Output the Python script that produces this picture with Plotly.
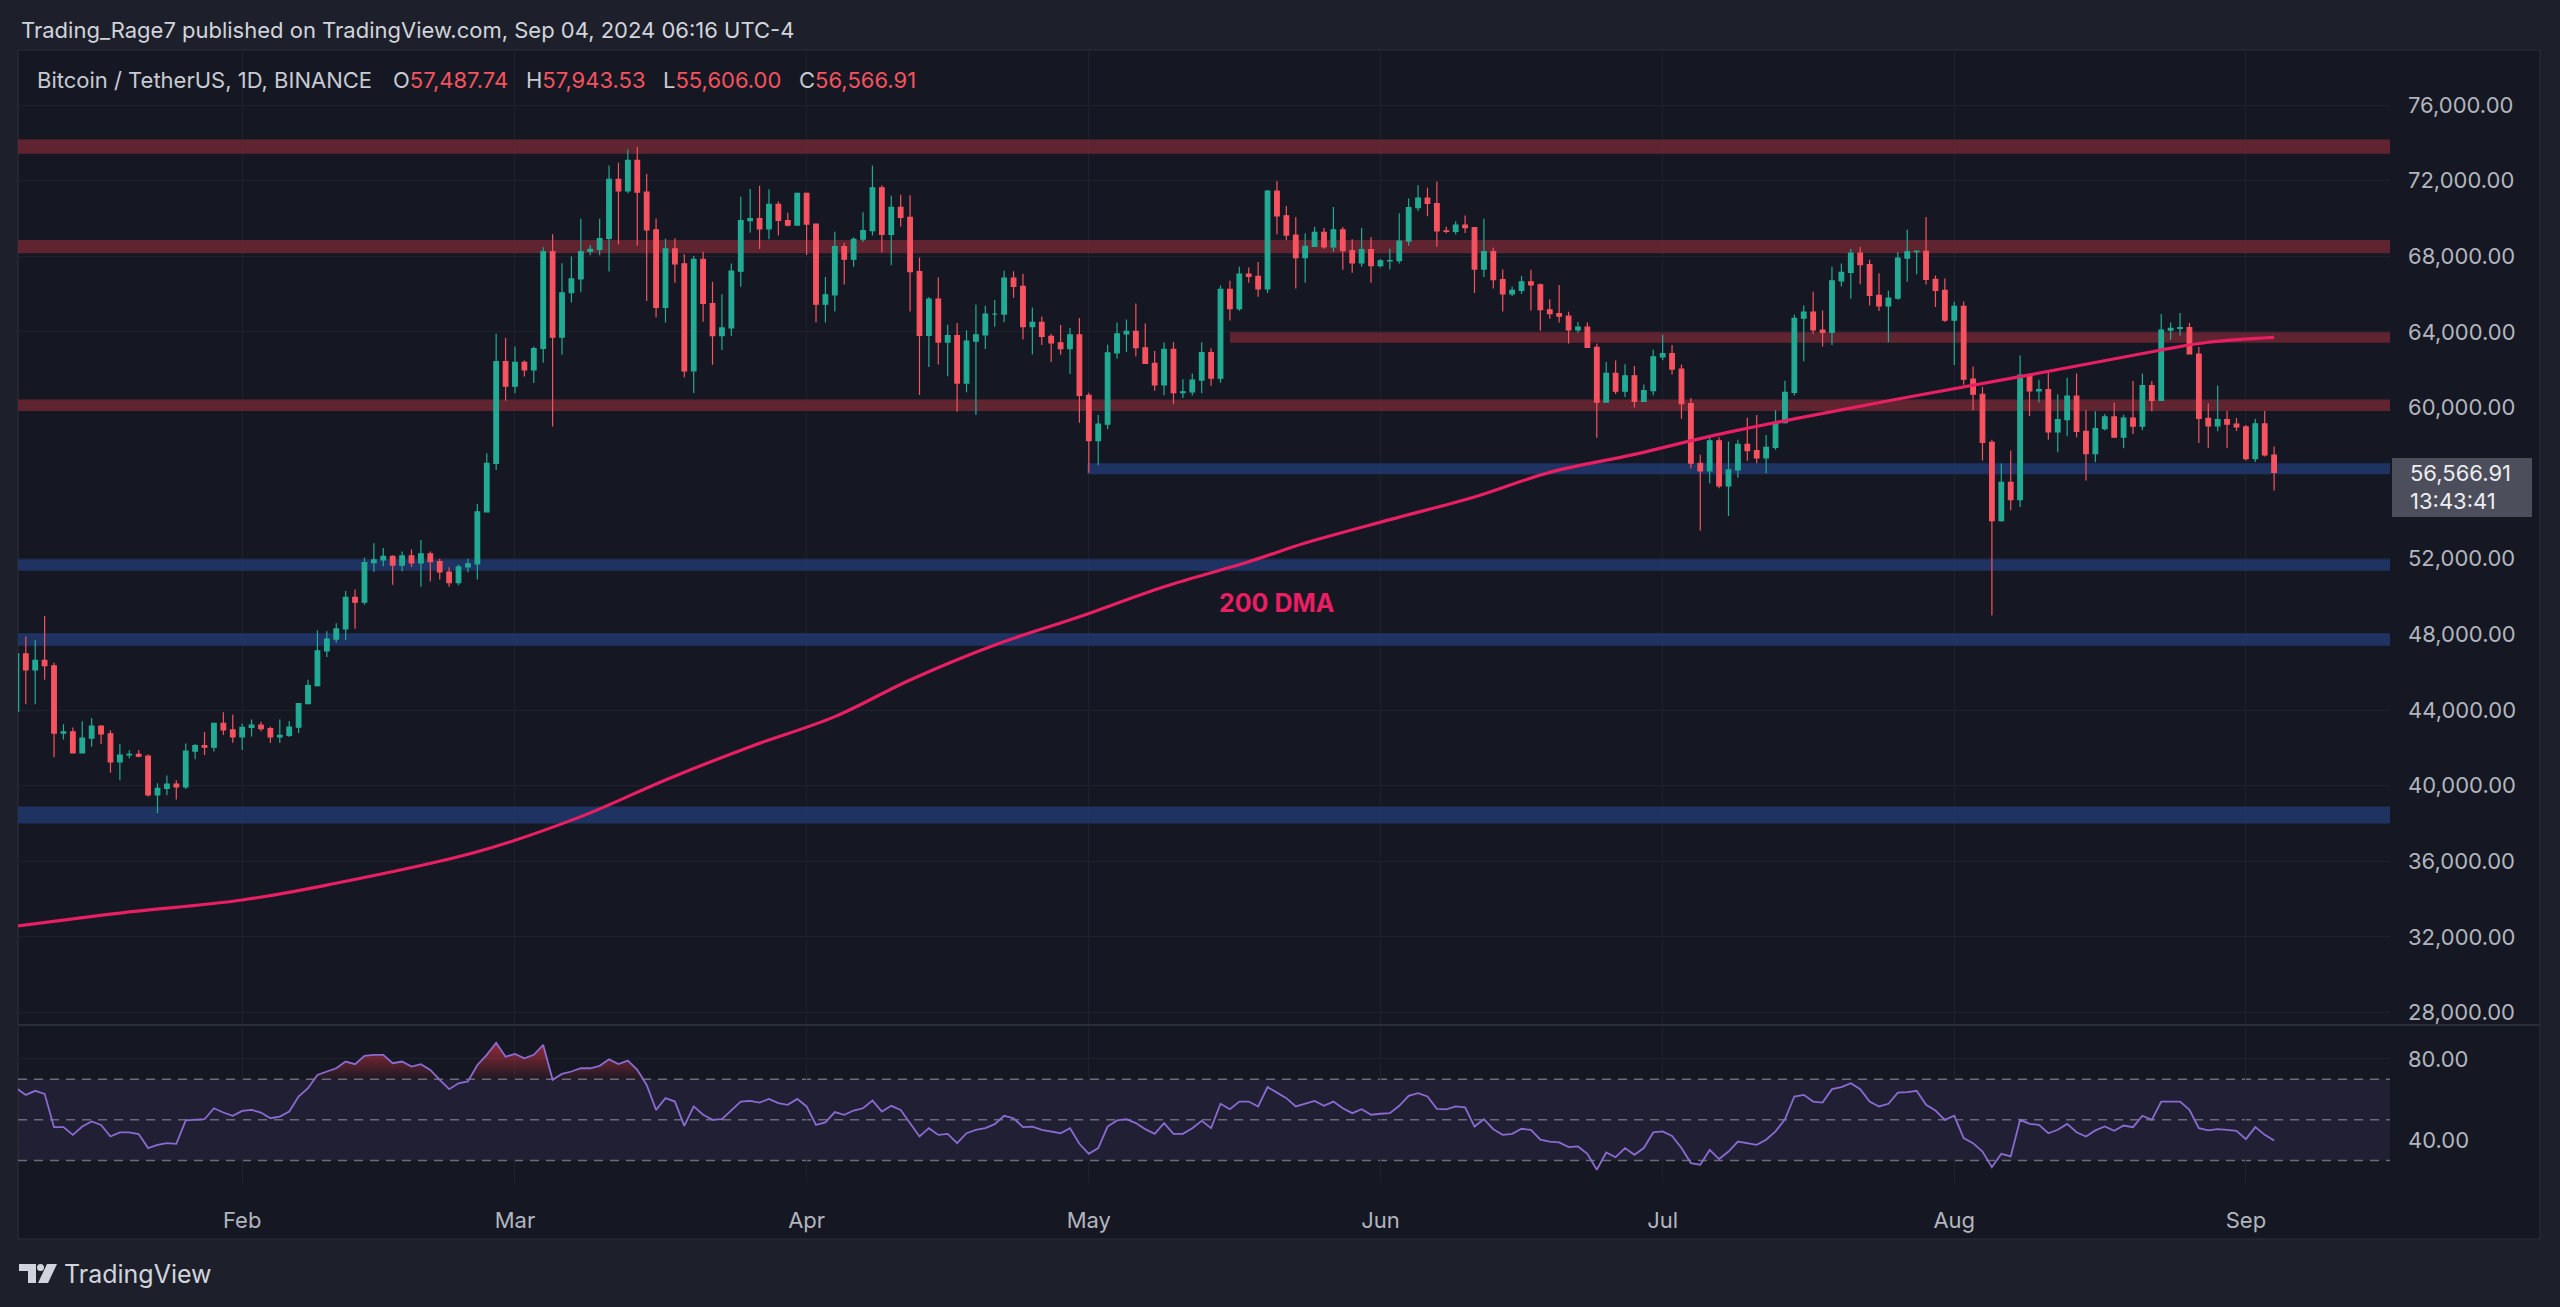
import pandas as pd
import plotly.graph_objects as go

W, H = 2560, 1307

# ---------------- data ----------------
dates = pd.date_range("2024-01-08", "2024-09-04", freq="D")

opens = [
    # Jan 8-31
    43940, 46970, 46120, 46630, 46340, 42780, 42840, 41730, 42510, 43150, 42740, 41260, 41620, 41660, 41560, 39510,
    39850, 40080, 39930, 41820, 42120, 42030, 43300, 42950,
    # Feb
    42580, 43080, 43200, 43010, 42580, 42660, 43090, 44340, 45290, 47130, 47750, 48290, 49960, 49700, 51800, 51940,
    52130, 51660, 52150, 51780, 52260, 51850, 51300, 50730, 51570, 51730, 54480, 57040, 62430,
    # Mar
    61130, 62390, 61990, 63120, 68250, 63720, 66070, 66800, 68250, 68360, 68940, 72070, 71450, 73070, 71390, 69400,
    65300, 68390, 67600, 61940, 67840, 65500, 63800, 64210, 67210, 69880, 69990, 69450, 70740, 69890, 69650,
    # Apr
    71330, 69700, 65460, 65960, 68510, 67840, 68900, 69360, 71620, 69150, 70590, 70060, 67190, 63820, 65740, 63460,
    63800, 61290, 63510, 63840, 64940, 64940, 66840, 66410, 64280, 64500, 63760, 63420, 63110, 63840,
    # May
    60640, 58250, 59120, 62890, 63890, 64030, 63160, 62330, 61190, 63070, 60790, 60830, 61450, 62900, 61550, 66250,
    65230, 67050, 66940, 66270, 71440, 70140, 69120, 67930, 68520, 69270, 68500, 69400, 68300, 67650, 68350,
    # Jun
    67500, 67760, 67770, 68800, 70570, 71080, 70790, 69340, 69310, 69650, 69510, 67320, 68240, 66760, 66010, 66190,
    66640, 66490, 65170, 64960, 64830, 64100, 64250, 63180, 60280, 61800, 60860, 61680, 60320, 60890,
    # Jul
    62680, 62850, 62030, 60200, 57050, 56650, 58240, 55850, 56700, 58050, 57720, 57340, 57890, 59200, 60800, 64720,
    65040, 64100, 63970, 66700, 67150, 68170, 67560, 65930, 65370, 65780, 67900, 68240, 68260, 66780, 66190,
    # Aug
    64620, 65350, 61500, 60700, 58160, 54020, 56040, 55130, 61710, 60880, 60950, 58710, 59360, 60600, 58740, 57560,
    58880, 59500, 58430, 59440, 59010, 61160, 60380, 64090, 64180, 64220, 62830, 59420, 59030, 59360, 59120,
    # Sep
    58970, 57300, 59130, 57487.74,
]

highs = [
    47250, 47890, 47700, 48970, 46500, 43250, 43070, 43400, 43580, 43200, 42930, 42200, 41870, 41890, 41640, 40130,
    40540, 40280, 42230, 42200, 42840, 43300, 43880, 43750,
    43290, 43500, 43380, 43120, 43500, 43420, 44370, 45600, 48200, 48170, 48590, 50300, 50370, 52050, 52820, 52570,
    52190, 52380, 52490, 52990, 52380, 52000, 51550, 51700, 52000, 54900, 57580, 63900, 63670,
    63230, 62480, 63230, 68480, 69170, 67630, 67990, 69990, 68600, 69990, 72800, 72950, 73650, 73780, 72350, 70000,
    68920, 68950, 68100, 68030, 68240, 66650, 65990, 67620, 71150, 71560, 71730, 71550, 70900, 70300, 71370,
    71370, 69700, 66900, 69290, 68720, 69000, 70330, 72800, 71750, 71200, 71250, 71230, 67930, 65840, 66870, 64380,
    64470, 64080, 65450, 65380, 65680, 67230, 67200, 67070, 65290, 64800, 63900, 64360, 64200, 64730,
    60780, 59600, 63320, 64500, 64650, 65500, 64440, 62990, 63440, 63470, 61500, 61800, 63450, 63130, 66450, 66700,
    67450, 67400, 67700, 71500, 71980, 70660, 70080, 69220, 69560, 69500, 70600, 69550, 68900, 69500, 69020,
    67860, 68400, 70280, 71060, 71750, 71620, 71950, 69560, 69850, 70150, 69550, 69990, 68450, 67300, 66400, 66950,
    67290, 66560, 65730, 66480, 65070, 64520, 64490, 63370, 62400, 62480, 62290, 62200, 61210, 63060,
    63850, 63300, 62280, 60500, 57500, 58480, 58420, 58200, 58300, 59460, 59600, 58540, 59850, 61420, 64900, 65390,
    66120, 65130, 67440, 67620, 68380, 68490, 67820, 67100, 66170, 68230, 69400, 68320, 70080, 66980, 66820,
    65590, 65600, 62170, 61100, 58300, 57040, 57720, 62750, 61800, 61470, 61860, 60700, 61580, 61800, 59850, 59800,
    59650, 60260, 59620, 61400, 61800, 61400, 64950, 64500, 65000, 64480, 63200, 60230, 61170, 59820, 59450,
    59070, 59400, 59810, 57943.53,
]

lows = [
    43200, 44300, 44300, 45600, 41500, 42440, 41720, 41700, 42050, 42200, 40680, 40280, 41450, 41500, 39420, 38555,
    39490, 39270, 39820, 41400, 41620, 41800, 42680, 42270,
    41880, 42600, 42880, 42250, 42260, 42570, 42780, 44300, 45240, 46800, 47560, 47700, 48300, 49570, 51300, 51600,
    50620, 51340, 51570, 50520, 50800, 50900, 50520, 50600, 51280, 50900, 54450, 56700, 60360,
    60750, 61640, 61300, 62370, 59000, 62800, 65550, 66100, 68050, 68050, 67190, 68620, 71330, 68560, 65630, 64780,
    64500, 66600, 61600, 60770, 64530, 62260, 63040, 63780, 66390, 69250, 68380, 68900, 69100, 69570, 69620,
    68060, 64510, 64500, 65080, 66500, 67450, 68760, 69100, 68200, 67520, 69570, 65080, 60660, 62140, 62270, 61650,
    59770, 60800, 59600, 63090, 64270, 64510, 65800, 63600, 62800, 63300, 62400, 62790, 61770, 59190,
    56550, 56940, 58850, 62580, 62930, 62700, 62300, 60890, 60650, 60190, 60500, 60630, 60750, 61150, 61310, 64600,
    65110, 66600, 65860, 66060, 69160, 68850, 66300, 66600, 68500, 68400, 68240, 67280, 67130, 67450, 66600,
    67400, 67300, 67610, 68560, 70390, 70120, 68500, 69210, 69150, 69230, 66050, 66900, 66300, 65080, 65900, 66000,
    65130, 64060, 64690, 64500, 63380, 63950, 63160, 58400, 60260, 60720, 60550, 60000, 60300, 60650,
    62500, 61750, 59400, 56770, 53490, 56000, 55730, 54260, 56290, 57180, 57050, 56520, 57770, 59150, 60640, 62450,
    63900, 63230, 63300, 66400, 65750, 66520, 65400, 65100, 63450, 65700, 66650, 67050, 66500, 65320, 64520,
    62250, 61200, 59850, 57200, 49000, 53960, 54560, 54740, 59550, 60270, 58300, 57630, 58480, 58430, 56140, 57100,
    58780, 58420, 57850, 58600, 58800, 59800, 60350, 63580, 63800, 62800, 58120, 57860, 58750, 57860, 58760,
    57200, 57120, 57410, 55606.00,
]

closes = [
    46970, 46120, 46630, 46340, 42780, 42840, 41730, 42510, 43150, 42740, 41260, 41620, 41660, 41560, 39510, 39850,
    40080, 39930, 41820, 42120, 42030, 43300, 42950, 42580,
    43080, 43200, 43010, 42580, 42660, 43090, 44340, 45290, 47130, 47750, 48290, 49960, 49700, 51800, 51940, 52130,
    51660, 52150, 51780, 52260, 51850, 51300, 50730, 51570, 51730, 54480, 57040, 62430, 61130,
    62390, 61990, 63120, 68250, 63720, 66070, 66800, 68250, 68360, 68940, 72070, 71450, 73070, 71390, 69400, 65300,
    68390, 67600, 61940, 67840, 65500, 63800, 64210, 67210, 69880, 69990, 69450, 70740, 69890, 69650, 71330,
    69700, 65460, 65960, 68510, 67840, 68900, 69360, 71620, 69150, 70590, 70060, 67190, 63820, 65740, 63460, 63800,
    61290, 63510, 63840, 64940, 64940, 66840, 66410, 64280, 64500, 63760, 63420, 63110, 63840, 60640,
    58250, 59120, 62890, 63890, 64030, 63160, 62330, 61190, 63070, 60790, 60830, 61450, 62900, 61550, 66250, 65230,
    67050, 66940, 66270, 71440, 70140, 69120, 67930, 68520, 69270, 68500, 69400, 68300, 67650, 68350, 67500,
    67760, 67770, 68800, 70570, 71080, 70790, 69340, 69310, 69650, 69510, 67320, 68240, 66760, 66010, 66190, 66640,
    66490, 65170, 64960, 64830, 64100, 64250, 63180, 60280, 61800, 60860, 61680, 60320, 60890, 62680,
    62850, 62030, 60200, 57050, 56650, 58240, 55850, 56700, 58050, 57720, 57340, 57890, 59200, 60800, 64720, 65040,
    64100, 63970, 66700, 67150, 68170, 67560, 65930, 65370, 65780, 67900, 68240, 68260, 66780, 66190, 64620,
    65350, 61500, 60700, 58160, 54020, 56040, 55130, 61710, 60880, 60950, 58710, 59360, 60600, 58740, 57560, 58880,
    59500, 58430, 59440, 59010, 61160, 60380, 64090, 64180, 64220, 62830, 59420, 59030, 59360, 59120, 58970,
    57300, 59130, 57490, 56566.91,
]

# 200-day moving average
dma_dates = ["2024-01-08", "2024-01-19", "2024-02-01", "2024-02-10", "2024-02-26", "2024-03-08", "2024-03-17",
             "2024-03-26", "2024-04-04", "2024-04-12", "2024-04-21", "2024-04-30", "2024-05-09", "2024-05-18",
             "2024-05-24", "2024-06-02", "2024-06-11", "2024-06-19", "2024-06-28", "2024-07-06", "2024-07-15",
             "2024-07-26", "2024-08-08", "2024-08-23", "2024-08-28", "2024-09-04"]
dma_values = [32575, 33260, 33950, 34740, 36500, 38360, 40300, 42060, 43650, 45590, 47440, 48930, 50520, 51840,
              52830, 54070, 55270, 56570, 57520, 58470, 59400, 60450, 61630, 63040, 63450, 63710]

# RSI(14) values
rsi_values = [
    65.6, 62.3, 64.3, 62.8, 46.4, 46.4, 42.6, 46.7, 49.2, 47.5, 41.8, 43.8, 43.8, 43.0, 36.1, 37.7, 38.5, 38.2, 49.7,
    50.0, 50.3, 55.7, 53.6, 52.0,
    54.4, 54.9, 53.6, 50.8, 51.6, 54.1, 61.5, 65.6, 72.1, 73.8, 75.4, 78.7, 77.4, 81.5, 82.0, 82.0, 77.9, 78.7, 76.2,
    77.4, 74.6, 69.7, 65.1, 68.0, 68.9, 77.0, 82.0, 88.0, 81.1,
    82.5, 80.3, 82.0, 86.9, 69.7, 72.6, 73.8, 75.4, 75.4, 76.6, 79.8, 77.5, 79.2, 74.6, 67.2, 54.9, 60.7, 59.0, 47.0,
    56.6, 52.5, 50.0, 50.3, 54.9, 59.0, 59.3, 58.5, 60.3, 58.2, 57.4, 60.3,
    56.6, 47.5, 48.7, 53.8, 52.5, 54.6, 55.7, 59.5, 54.1, 56.9, 54.9, 48.4, 41.8, 45.9, 42.6, 43.1, 38.5, 43.4, 45.1,
    45.9, 47.9, 52.0, 50.8, 46.4, 46.7, 45.1, 44.3, 43.4, 45.9, 38.2,
    33.3, 36.1, 46.7, 49.7, 50.3, 48.4, 45.4, 43.1, 48.4, 43.1, 43.1, 45.9, 49.5, 45.9, 57.9, 55.2, 59.0, 59.0, 56.6,
    66.1, 63.4, 60.7, 56.6, 57.9, 59.3, 56.9, 59.0, 55.7, 53.3, 55.2, 52.5,
    53.0, 53.3, 56.9, 61.8, 63.1, 61.5, 55.4, 55.2, 56.6, 56.1, 46.7, 50.3, 45.4, 42.6, 43.1, 45.6, 45.1, 40.2, 39.3,
    38.9, 36.6, 36.9, 33.3, 25.4, 33.9, 31.6, 36.1, 32.8, 36.1, 43.8,
    44.3, 42.1, 36.1, 28.7, 27.9, 35.2, 30.7, 34.4, 39.3, 38.5, 37.7, 40.2, 44.3, 50.3, 61.5, 62.3, 59.0, 58.5, 65.1,
    66.1, 68.0, 65.1, 59.0, 56.6, 57.9, 63.4, 63.6, 64.3, 57.4, 54.6, 50.0,
    52.0, 41.0, 38.5, 34.4, 26.7, 33.3, 32.0, 50.0, 48.0, 47.5, 43.4, 45.1, 48.0, 43.9, 41.8, 44.8, 46.7, 44.6, 47.2,
    46.4, 52.0, 50.0, 59.0, 59.0, 59.0, 54.9, 45.9, 44.8, 45.4, 45.1, 44.6,
    40.5, 46.4, 42.6, 39.8,
]

# support / resistance zones: (low, high, start date or None for full width)
red_zones = [(73420, 74170, None), (68160, 68860, None), (63430, 63980, "2024-05-16"), (59820, 60420, None)]
blue_zones = [(56470, 57050, "2024-04-30 20:00"), (51370, 51970, None), (47400, 48060, None), (38000, 38890, None)]

# price-axis ticks (56,000 is hidden behind the last-price label)
price_ticks = [28000, 32000, 36000, 40000, 44000, 48000, 52000, 60000, 64000, 68000, 72000, 76000]
rsi_ticks = [40, 80]
rsi_levels = [70, 50, 30]

month_ticks = ["2024-02-01", "2024-03-01", "2024-04-01", "2024-05-01", "2024-06-01", "2024-07-01", "2024-08-01",
               "2024-09-01"]
month_labels = ["Feb", "Mar", "Apr", "May", "Jun", "Jul", "Aug", "Sep"]

# ---------------- style ----------------
X_START, X_END = "2024-01-08 04:05", "2024-09-16 07:40"
UP, DN = "#22ab94", "#f7525f"
PINK = "#e91e63"
OUTER = "#1d202a"
PANE = "#151822"
GRID = "#1e2230"
BORDER = "#2a2e39"
AX_TXT = "#b2b5be"
FONT = "Inter, Roboto, sans-serif"


def px(x):
    return x / W


def py(y):
    return 1 - y / H


fig = go.Figure()

fig.add_trace(go.Candlestick(
    x=dates, open=opens, high=highs, low=lows, close=closes,
    increasing=dict(line=dict(color=UP, width=1.2), fillcolor=UP),
    decreasing=dict(line=dict(color=DN, width=1.2), fillcolor=DN),
    whiskerwidth=0, xaxis="x", yaxis="y", showlegend=False, hoverinfo="skip"))

fig.add_trace(go.Scatter(
    x=pd.to_datetime(dma_dates), y=dma_values, mode="lines", xaxis="x", yaxis="y",
    line=dict(color=PINK, width=3.2, shape="spline", smoothing=1.0), showlegend=False, hoverinfo="skip"))

# RSI pane
rsi_ob = [max(v, 70) for v in rsi_values]
fig.add_trace(go.Scatter(x=dates, y=[70] * len(dates), mode="lines", line=dict(width=0, color="rgba(0,0,0,0)"),
                         xaxis="x2", yaxis="y2", showlegend=False, hoverinfo="skip"))
fig.add_trace(go.Scatter(x=dates, y=rsi_ob, mode="lines", line=dict(width=0, color="rgba(0,0,0,0)"),
                         fill="tonexty",
                         fillgradient=dict(type="vertical", start=70, stop=90,
                                           colorscale=[[0, "rgba(242,54,69,0.05)"], [1, "rgba(242,54,69,0.65)"]]),
                         xaxis="x2", yaxis="y2", showlegend=False, hoverinfo="skip"))
fig.add_trace(go.Scatter(x=dates, y=rsi_values, mode="lines", line=dict(color="#8a6bd1", width=1.8),
                         xaxis="x2", yaxis="y2", showlegend=False, hoverinfo="skip"))

shapes = []
# pane background and borders
shapes.append(dict(type="rect", xref="paper", yref="paper", x0=px(18), x1=px(2540), y0=py(1239), y1=py(50),
                   fillcolor=PANE, line=dict(color=BORDER, width=1), layer="below"))
shapes.append(dict(type="line", xref="paper", yref="paper", x0=px(18), x1=px(2540), y0=py(1025), y1=py(1025),
                   line=dict(color=BORDER, width=2), layer="above"))

for lo, hi, start in red_zones:
    shapes.append(dict(type="rect", xref="x", yref="y", x0=start or X_START, x1=X_END, y0=lo, y1=hi,
                       fillcolor="rgba(120,40,52,0.75)", line=dict(width=0), layer="between"))
for lo, hi, start in blue_zones:
    shapes.append(dict(type="rect", xref="x", yref="y", x0=start or X_START, x1=X_END, y0=lo, y1=hi,
                       fillcolor="rgba(33,60,120,0.75)", line=dict(width=0), layer="between"))

shapes.append(dict(type="rect", xref="x2", yref="y2", x0=X_START, x1=X_END, y0=30, y1=70,
                   fillcolor="rgba(126,87,194,0.11)", line=dict(width=0), layer="below"))
for lv in rsi_levels:
    shapes.append(dict(type="line", xref="x2", yref="y2", x0=X_START, x1=X_END, y0=lv, y1=lv,
                       line=dict(color="rgba(120,123,134,0.85)", width=1.5, dash="9px,7px"), layer="below"))

# price label box
shapes.append(dict(type="rect", xref="paper", yref="paper", x0=px(2392), x1=px(2532), y0=py(517), y1=py(458),
                   fillcolor="#4c4f5b", line=dict(width=0), layer="above"))

# TradingView logo
shapes.append(dict(type="path", xref="paper", yref="paper", fillcolor="#d1d4dc", line=dict(width=0), layer="above",
                   path=f"M {px(19)} {py(1264)} L {px(36)} {py(1264)} L {px(36)} {py(1283)} L {px(28)} {py(1283)} "
                        f"L {px(28)} {py(1271)} L {px(19)} {py(1271)} Z"))
shapes.append(dict(type="circle", xref="paper", yref="paper", fillcolor="#d1d4dc", line=dict(width=0), layer="above",
                   x0=px(37), x1=px(44), y0=py(1271), y1=py(1264)))
shapes.append(dict(type="path", xref="paper", yref="paper", fillcolor="#d1d4dc", line=dict(width=0), layer="above",
                   path=f"M {px(47)} {py(1264)} L {px(57)} {py(1264)} L {px(48)} {py(1283)} L {px(38)} {py(1283)} Z"))

annotations = [
    dict(text="Trading_Rage7 published on TradingView.com, Sep 04, 2024 06:16 UTC-4", x=px(19), y=py(30),
         xanchor="left", yanchor="middle", font=dict(size=22, color="#d1d4dc")),
    dict(text="Bitcoin / TetherUS, 1D, BINANCE", x=px(35), y=py(80), xanchor="left", yanchor="middle",
         font=dict(size=22, color="#c7cad2")),
    dict(text=f"O<span style='color:{DN}'>57,487.74</span>", x=px(391), y=py(80), xanchor="left",
         yanchor="middle", font=dict(size=22, color="#c7cad2")),
    dict(text=f"H<span style='color:{DN}'>57,943.53</span>", x=px(524), y=py(80), xanchor="left",
         yanchor="middle", font=dict(size=22, color="#c7cad2")),
    dict(text=f"L<span style='color:{DN}'>55,606.00</span>", x=px(661), y=py(80), xanchor="left",
         yanchor="middle", font=dict(size=22, color="#c7cad2")),
    dict(text=f"C<span style='color:{DN}'>56,566.91</span>", x=px(797), y=py(80), xanchor="left",
         yanchor="middle", font=dict(size=22, color="#c7cad2")),
    dict(text="<b>200 DMA</b>", x=px(1277), y=py(603), xanchor="center", yanchor="middle",
         font=dict(size=25, color=PINK)),
    dict(text="56,566.91", x=px(2408), y=py(473), xanchor="left", yanchor="middle",
         font=dict(size=22, color="#eceef2")),
    dict(text="13:43:41", x=px(2408), y=py(501), xanchor="left", yanchor="middle",
         font=dict(size=22, color="#eceef2")),
    dict(text="TradingView", x=px(62), y=py(1274), xanchor="left", yanchor="middle",
         font=dict(size=25, color="#d1d4dc")),
]
for a in annotations:
    a.update(xref="paper", yref="paper", showarrow=False)

fig.update_layout(
    width=W, height=H, margin=dict(l=0, r=0, t=0, b=0),
    paper_bgcolor=OUTER, plot_bgcolor=PANE,
    font=dict(family=FONT, color=AX_TXT, size=22),
    shapes=shapes, annotations=annotations, showlegend=False,
    xaxis=dict(domain=[px(18), px(2390)], range=[X_START, X_END], anchor="y", type="date",
               tickvals=month_ticks, showticklabels=False, showgrid=True, gridcolor=GRID, gridwidth=1,
               zeroline=False, showline=False, ticks="", rangeslider=dict(visible=False), fixedrange=True),
    yaxis=dict(domain=[py(1025), py(50)], range=[27339, 78909], anchor="x", side="right",
               tickvals=price_ticks, tickformat=",.2f", showgrid=True, gridcolor=GRID, gridwidth=1,
               zeroline=False, showline=False, ticks="", ticklabelstandoff=17,
               tickfont=dict(size=22, color=AX_TXT), fixedrange=True),
    xaxis2=dict(domain=[px(18), px(2390)], range=[X_START, X_END], anchor="y2", type="date",
                tickvals=month_ticks, ticktext=month_labels, showticklabels=True, showgrid=True,
                gridcolor=GRID, gridwidth=1, zeroline=False, showline=False, ticks="", ticklabelstandoff=22,
                tickfont=dict(size=22, color=AX_TXT), fixedrange=True),
    yaxis2=dict(domain=[py(1183), py(1025)], range=[18.9, 96.7], anchor="x2", side="right",
                tickvals=rsi_ticks, tickformat=".2f", showgrid=True, gridcolor=GRID, zeroline=False,
                showline=False, ticks="", ticklabelstandoff=17, tickfont=dict(size=22, color=AX_TXT),
                fixedrange=True),
)

fig.write_html("out.html")
